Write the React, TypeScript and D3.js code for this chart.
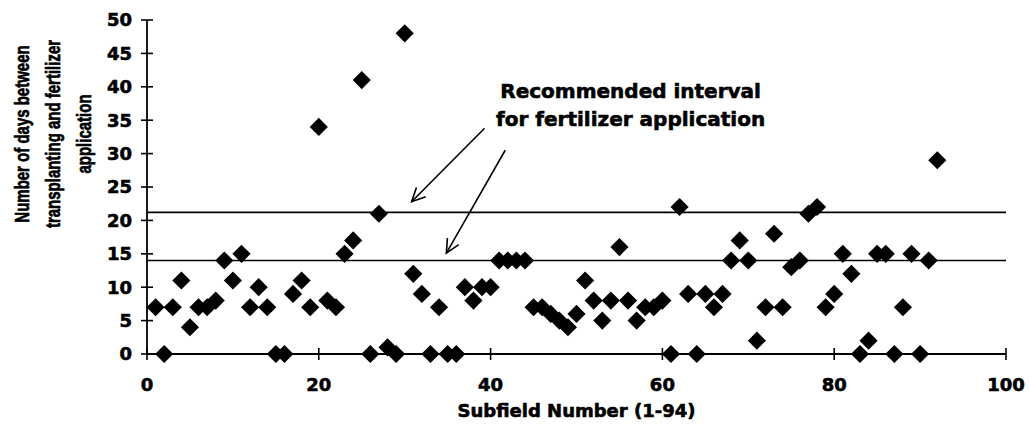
import React from "react";
import * as d3 from "d3";

const subfields = [
  1, 2, 3, 4, 5, 6, 7, 8, 9, 10, 11, 12, 13, 14, 15, 16, 17, 18, 19, 20,
  21, 22, 23, 24, 25, 26, 27, 28, 29, 30, 31, 32, 33, 34, 35, 36, 37, 38, 39, 40,
  41, 42, 43, 44, 45, 46, 47, 48, 49, 50, 51, 52, 53, 54, 55, 56, 57, 58, 59, 60,
  61, 62, 63, 64, 65, 66, 67, 68, 69, 70, 71, 72, 73, 74, 75, 76, 77, 78, 79, 80,
  81, 82, 83, 84, 85, 86, 87, 88, 89, 90, 91, 92,
];
const days = [
  7, 0, 7, 11, 4, 7, 7, 8, 14, 11, 15, 7, 10, 7, 0, 0, 9, 11, 7, 34,
  8, 7, 15, 17, 41, 0, 21, 1, 0, 48, 12, 9, 0, 7, 0, 0, 10, 8, 10, 10,
  14, 14, 14, 14, 7, 7, 6, 5, 4, 6, 11, 8, 5, 8, 16, 8, 5, 7, 7, 8,
  0, 22, 9, 0, 9, 7, 9, 14, 17, 14, 2, 7, 18, 7, 13, 14, 21, 22, 7, 9,
  15, 12, 0, 2, 15, 15, 0, 7, 15, 0, 14, 29,
];
const intervalBounds = [14, 21.2];
const xTicks = [0, 20, 40, 60, 80, 100];
const yTicks = [0, 5, 10, 15, 20, 25, 30, 35, 40, 45, 50];
const yTitleLines = ["Number of days between", "transplanting and fertilizer", "application"];
const xTitle = "Subfield Number (1-94)";
const noteLines = ["Recommended interval", "for fertilizer application"];
const noteAnchor = { x: 56.3, y1: 38.3, y2: 34.2 };
const arrows = [
  { x0: 39.3, y0: 33.8, x1: 30.8, y1: 22.8 },
  { x0: 41.7, y0: 30.5, x1: 34.85, y1: 15.1 },
];

const W = 1029;
const H = 436;
const left = 147, right = 1006, top = 20, bottom = 354;
const FONT = "'DejaVu Sans', sans-serif";
const heavy = { stroke: "#000", strokeWidth: 0.6 };

export default function App() {
  const x = d3.scaleLinear().domain([0, 100]).range([left, right]);
  const y = d3.scaleLinear().domain([0, 50]).range([bottom, top]);
  const diamond = d3.symbol(d3.symbolSquare, 165)();

  const arrowHead = (a: typeof arrows[0]) => {
    const tx = x(a.x1), ty = y(a.y1);
    const ang = Math.atan2(ty - y(a.y0), tx - x(a.x0));
    const L = 15, spread = 0.45;
    const p1 = [tx - L * Math.cos(ang - spread), ty - L * Math.sin(ang - spread)];
    const p2 = [tx - L * Math.cos(ang + spread), ty - L * Math.sin(ang + spread)];
    return `M${p1[0]},${p1[1]}L${tx},${ty}L${p2[0]},${p2[1]}`;
  };

  return (
    <svg width={W} height={H} style={{ position: "absolute", left: 0, top: 0, background: "#fff" }}>
      <rect width={W} height={H} fill="#fff" />
      {intervalBounds.map((v) => (
        <line key={v} x1={x(0)} x2={x(100)} y1={y(v)} y2={y(v)} stroke="#000" strokeWidth={1.6} />
      ))}
      <line x1={x(0)} x2={x(0)} y1={y(0)} y2={y(50)} stroke="#000" strokeWidth={1.8} />
      <line x1={x(0)} x2={x(100)} y1={y(0)} y2={y(0)} stroke="#000" strokeWidth={1.8} />
      {yTicks.map((t) => (
        <g key={t}>
          <line x1={x(0) - 6} x2={x(0) + 6} y1={y(t)} y2={y(t)} stroke="#000" strokeWidth={1.6} />
          <text x={132} y={y(t)} dy="0.36em" textAnchor="end" fontFamily={FONT} fontWeight="bold" fontSize={18} {...heavy}>
            {t}
          </text>
        </g>
      ))}
      {xTicks.map((t) => (
        <g key={t}>
          <line x1={x(t)} x2={x(t)} y1={y(0) - 6} y2={y(0) + 6} stroke="#000" strokeWidth={1.6} />
          <text x={x(t)} y={385} dy="0.36em" textAnchor="middle" fontFamily={FONT} fontWeight="bold" fontSize={18} {...heavy}>
            {t}
          </text>
        </g>
      ))}
      {subfields.map((s, i) => (
        <path key={s} d={diamond} transform={`translate(${x(s)},${y(days[i])}) rotate(45)`} fill="#000" />
      ))}
      {noteLines.map((l, i) => (
        <text
          key={l}
          x={x(noteAnchor.x)}
          y={y(i === 0 ? noteAnchor.y1 : noteAnchor.y2)}
          textAnchor="middle"
          fontFamily={FONT}
          fontWeight="bold"
          fontSize={20}
          {...heavy}
        >
          {l}
        </text>
      ))}
      {arrows.map((a, i) => (
        <g key={i} stroke="#000" strokeWidth={1.6} fill="none">
          <line x1={x(a.x0)} y1={y(a.y0)} x2={x(a.x1)} y2={y(a.y1)} />
          <path d={arrowHead(a)} />
        </g>
      ))}
      <text x={(left + right) / 2} y={417} textAnchor="middle" fontFamily={FONT} fontWeight="bold" fontSize={18} {...heavy}>
        {xTitle}
      </text>
      {yTitleLines.map((l, i) => (
        <text
          key={l}
          transform={`translate(${22 + i * 31},134) rotate(-90) scale(1,1.35)`}
          textAnchor="middle"
          dy="0.35em"
          fontFamily="'Liberation Sans', Arial, sans-serif"
          fontWeight="bold"
          fontSize={15}
          stroke="#000"
          strokeWidth={0.5}
        >
          {l}
        </text>
      ))}
    </svg>
  );
}
